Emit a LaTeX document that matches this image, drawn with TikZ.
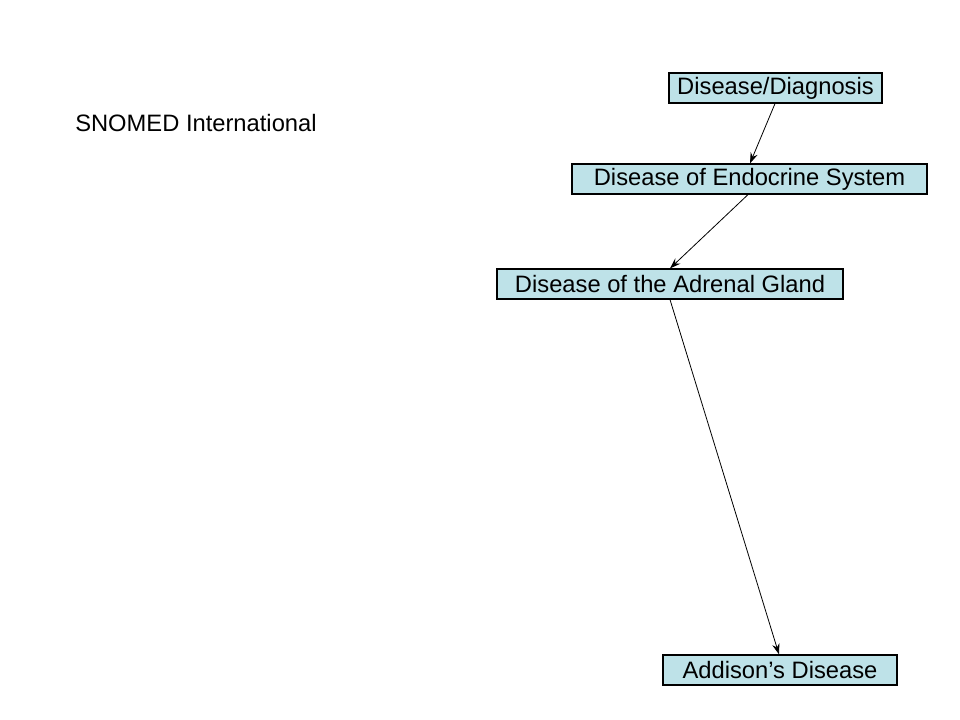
\documentclass[tikz,border=0pt]{standalone}
\usepackage{fontspec}
\setmainfont{Liberation Sans}
\usetikzlibrary{arrows.meta}
\begin{document}
\begin{tikzpicture}[x=0.75pt,y=-0.75pt,
  conceptbox/.style={draw=black,line width=0.9pt,fill={rgb,255:red,190;green,226;blue,232},inner sep=0pt,minimum height=22.5pt,font=\fontsize{17.8}{20}\selectfont},
  isa/.style={-{Stealth[length=8pt,width=5.5pt]},line width=0.6pt}]
\useasboundingbox (0,0) rectangle (960,720);
\node[anchor=west,font=\fontsize{17.8}{20}\selectfont,inner sep=0pt] (title) at (75,123) {SNOMED International};
\node[conceptbox,minimum width=159.75pt] (a) at (775.5,88) {Disease/Diagnosis};
\node[conceptbox,minimum width=266.25pt] (b) at (749.5,179) {Disease of Endocrine System};
\node[conceptbox,minimum width=259.5pt] (c) at (670,284) {Disease of the Adrenal Gland};
\node[conceptbox,minimum width=175.5pt] (d) at (780,670) {Addison’s Disease};
\draw[isa] (a.south -| 775,0) -- (b.north -| 750,0);
\draw[isa] (b.south -| 748,0) -- (c.north -| 670,0);
\draw[isa] (c.south -| 670,0) -- (d.north -| 779,0);
\end{tikzpicture}
\end{document}
